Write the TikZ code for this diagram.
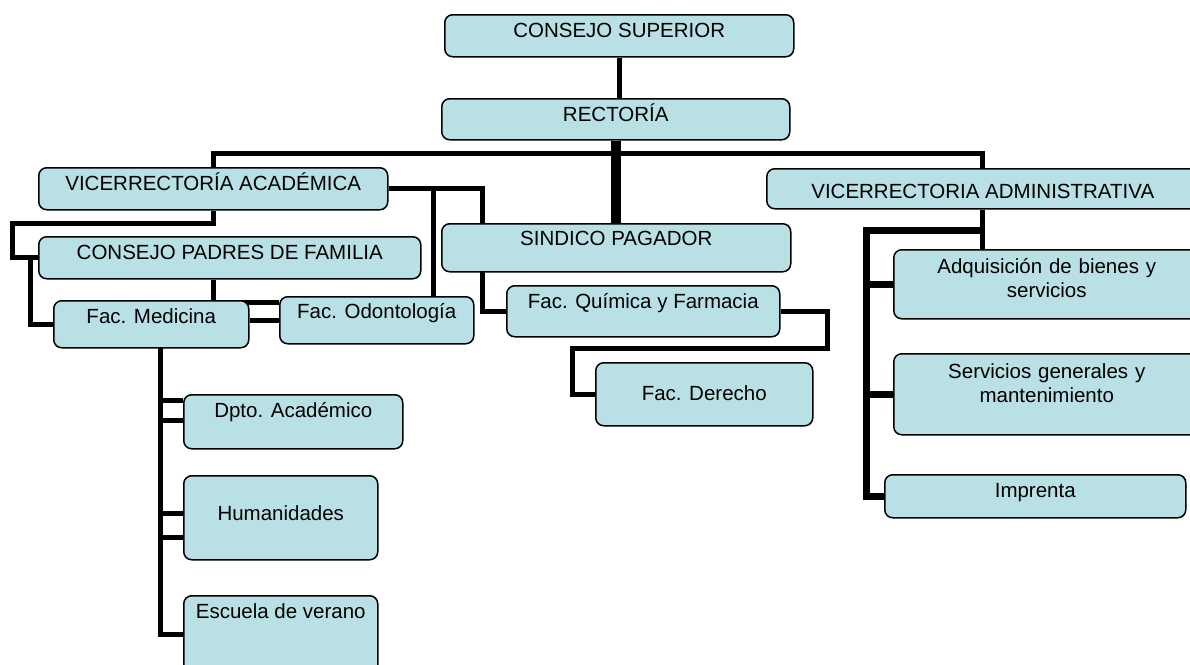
\documentclass[tikz,border=0pt]{standalone}
\usepackage{fontspec}
\setmainfont{Liberation Sans}
\usetikzlibrary{backgrounds}
\definecolor{boxblue}{RGB}{185,224,228}
\tikzstyle{unit} = [rectangle, rounded corners=8pt, draw=black, line width=1.5pt, fill=boxblue, anchor=north west, inner xsep=0pt, inner ysep=0pt, font=\fontsize{20.5}{24}\selectfont]
\tikzstyle{link} = [line width=5pt]
\tikzstyle{thicklink} = [line width=7pt]
\tikzstyle{heavylink} = [line width=10pt]

\begin{document}
\begin{tikzpicture}[x=1pt, y=-1pt]
\useasboundingbox (0,0) rectangle (1190,664);
% direction
\node (cs) [unit, minimum width=349pt, text height=23pt, text depth=19pt] at (444,14) {CONSEJO SUPERIOR};
\node (rect) [unit, minimum width=348pt, text height=23pt, text depth=18pt] at (441,98) {RECTORÍA};
\node (vac) [unit, minimum width=349pt, text height=23pt, text depth=19pt] at (38,167) {VICERRECTORÍA ACADÉMICA};
\node (sind) [unit, minimum width=349pt, text height=22pt, text depth=26pt] at (441,223) {SINDICO PAGADOR};
\node (vadm) [unit, minimum width=432pt, text height=30pt, text depth=10pt] at (766,168) {VICERRECTORIA ADMINISTRATIVA};
% academica
\node (cpf) [unit, minimum width=382pt, text height=23pt, text depth=19pt] at (38,236) {CONSEJO PADRES DE FAMILIA};
\node (med) [unit, minimum width=195pt, text height=23pt, text depth=24pt] at (53,300) {Fac. Medicina};
\node (odo) [unit, minimum width=194pt, text height=22pt, text depth=25pt] at (279,296) {Fac. Odontología};
\node (quim) [unit, minimum width=273pt, text height=23pt, text depth=28pt] at (506,285) {Fac. Química y Farmacia};
\node (der) [unit, minimum width=217pt, text height=38pt, text depth=25pt] at (595,362) {Fac. Derecho};
\node (dpto) [unit, minimum width=219pt, text height=23pt, text depth=31pt] at (183,394) {Dpto. Académico};
\node (hum) [unit, minimum width=194pt, text height=45pt, text depth=39pt] at (183,475) {Humanidades};
\node (esc) [unit, minimum width=194pt, text height=23pt, text depth=55pt] at (183,595) {Escuela de verano};
% administrativa
\node (adq) [unit, minimum width=306pt, text width=306pt, align=center, text height=24pt, text depth=45pt] at (893,249) {Adquisición de bienes y\\servicios};
\node (serv) [unit, minimum width=306pt, text width=306pt, align=center, text height=25pt, text depth=56pt] at (893,353) {Servicios generales y\\mantenimiento};
\node (imp) [unit, minimum width=301pt, text height=23pt, text depth=20pt] at (884,474) {Imprenta};

\coordinate (vtap) at (433,188);
\coordinate (mtop) at (157,302);
\coordinate (spine) at (160,340);
\coordinate (qd) at (827,348);
\coordinate (rspine) at (866,230);

\begin{scope}[on background layer]
\draw [link] (cs.south) -- (cs.south |- rect.north);
\draw [heavylink] (rect.south) -- (rect.south |- sind.north);
\draw [link] (vac.north) -- ++(0,-14) -| (vadm.north);
\draw [link] (vac.east) -| ([xshift=-24pt]quim.west) -- (quim.west);
\draw [link] (vtap) -- (vtap |- odo.north);
\draw [link] (vac.south) |- (12,223) |- (cpf.west);
\draw [link] (30,257) |- (med.west);
\draw [link] (cpf.south -| vac.south) -- (vac.south |- mtop);
\draw [link] (mtop) -- (mtop -| odo.west);
\draw [link] (odo.west) -- (odo.west -| med.east);
\draw [link] (spine) |- (esc.west);
\foreach \b/\y in {dpto/400, dpto/420, hum/513, hum/537}
  \draw [link] (spine |- 0,\y) -- (\b.west |- 0,\y);
\draw [link] (quim.east) -| (qd) -| ([xshift=-23pt]der.west) -- (der.west);
\draw [link] (vadm.south) -- (vadm.south |- adq.north);
\draw [thicklink] (vadm.south |- rspine) -| ([xshift=-18pt]imp.west) -- (imp.west);
\draw [thicklink] (rspine |- adq.west) -- (adq.west);
\draw [thicklink] (rspine |- serv.west) -- (serv.west);
\end{scope}
\end{tikzpicture}
\end{document}
